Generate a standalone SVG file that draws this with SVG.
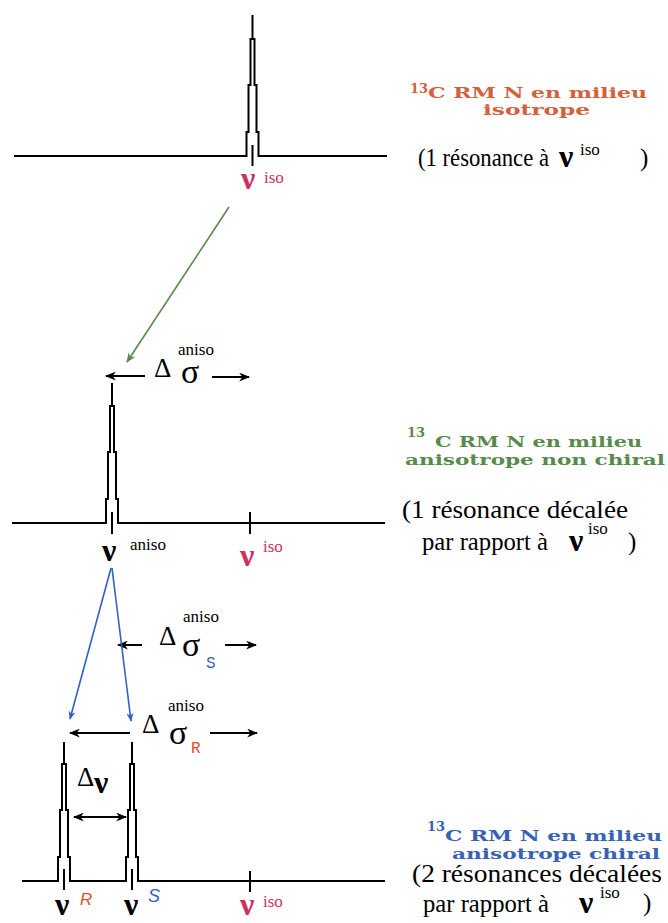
<svg xmlns="http://www.w3.org/2000/svg" width="668" height="923" viewBox="0 0 668 923">
<style>
.sp{fill:none;stroke:#000;stroke-width:2}
.ar{fill:none;stroke:#000;stroke-width:2}
.nu{font-family:"Liberation Serif","DejaVu Serif",serif;font-weight:bold;font-size:32px}
.sup{font-family:"Liberation Serif",serif;font-size:17px}
.hd{font-family:"DejaVu Serif","Liberation Serif",serif;font-weight:bold;font-size:15px}
.hs{font-family:"DejaVu Serif","Liberation Serif",serif;font-weight:bold;font-size:13px}
.bd{font-family:"Liberation Serif",serif;font-size:25px;fill:#000}
.gr{font-family:"Liberation Serif",serif;font-size:27px}
.sg{font-family:"Liberation Serif",serif;font-size:34px}
.red{fill:#cf3060}
.org{fill:#d4603c}
.grn{fill:#578a4c}
.blu{fill:#3a62b4}
</style>
<defs>
<marker id="ah" viewBox="0 0 10 8" refX="9" refY="4" markerWidth="11" markerHeight="9" markerUnits="userSpaceOnUse" orient="auto"><path d="M0,0 L10,4 L0,8 L3,4 z" fill="#000"/></marker>
<marker id="ahg" viewBox="0 0 10 8" refX="9" refY="4" markerWidth="11" markerHeight="8" markerUnits="userSpaceOnUse" orient="auto"><path d="M0,0 L10,4 L0,8 L3,4 z" fill="#578a4c"/></marker>
<marker id="ahb" viewBox="0 0 10 8" refX="9" refY="4" markerWidth="10" markerHeight="7" markerUnits="userSpaceOnUse" orient="auto"><path d="M0,0 L10,4 L0,8 L3,4 z" fill="#3060c8"/></marker>
</defs>

<g id="spectrum-isotrope">
<path class="sp" d="M14 156 H246.5 V132 H248.5 V85 H250.5 V39 H254.5 V85 H256.5 V132 H258.5 V156 H387"/>
<path class="sp" d="M252.5 39 V15 M252.5 145 V166"/>
<text class="nu red" x="241" y="189">ν</text><text class="sup red" x="264" y="183">iso</text>
</g>

<g id="label-isotrope">
<text class="hs org" x="410" y="93">13</text>
<text class="hd org" x="428" y="98" textLength="219" lengthAdjust="spacingAndGlyphs">C RM N en milieu</text>
<text class="hd org" x="483" y="115" textLength="107" lengthAdjust="spacingAndGlyphs">isotrope</text>
<text class="bd" x="418" y="166" textLength="131" lengthAdjust="spacingAndGlyphs">(1 résonance à</text>
<text class="nu" x="559" y="167">ν</text><text class="sup" x="580" y="155">iso</text>
<text class="bd" x="640" y="166">)</text>
</g>

<g id="spectrum-anisotrope">
<path class="sp" d="M12 523 H106 V499 H108 V452 H110 V406 H114 V452 H116 V499 H118 V523 H385"/>
<path class="sp" d="M112 406 V383 M112 512 V534 M250 512 V534"/>
<text class="nu" x="102" y="561">ν</text><text class="sup" x="130" y="550">aniso</text>
<text class="nu red" x="240" y="566">ν</text><text class="sup red" x="263" y="552">iso</text>
<line class="ar" x1="145" y1="376" x2="106" y2="376" marker-end="url(#ah)"/>
<line class="ar" x1="212" y1="377" x2="249" y2="377" marker-end="url(#ah)"/>
<text class="gr" x="154" y="377">Δ</text><text class="sg" x="181" y="383">σ</text>
<text class="sup" x="178" y="355">aniso</text>
</g>

<g id="label-anisotrope-non-chiral">
<text class="hs grn" x="407" y="437">13</text>
<text class="hd grn" x="435" y="447" textLength="207" lengthAdjust="spacingAndGlyphs">C RM N en milieu</text>
<text class="hd grn" x="405" y="465" textLength="260" lengthAdjust="spacingAndGlyphs">anisotrope non chiral</text>
<text class="bd" x="402" y="518" textLength="226" lengthAdjust="spacingAndGlyphs">(1 résonance décalée</text>
<text class="bd" x="422" y="550" textLength="126" lengthAdjust="spacingAndGlyphs">par rapport à</text>
<text class="nu" x="569" y="551">ν</text><text class="sup" x="588" y="534">iso</text>
<text class="bd" x="628" y="550">)</text>
</g>

<g id="spectrum-chiral">
<path class="sp" d="M22 881 H58 V857 H60 V810 H62 V764 H66 V810 H68 V857 H70 V881 H126 V857 H128 V810 H130 V764 H134 V810 H136 V857 H138 V881 H385"/>
<path class="sp" d="M64 764 V742 M132 764 V742 M64 869 V890 M132 869 V890 M250 871 V892"/>
<text class="nu" x="55" y="915" font-size="30">ν</text>
<text x="80" y="905" font-family="Liberation Sans,sans-serif" font-style="italic" font-size="17" fill="#e0502a">R</text>
<text class="nu" x="124" y="915" font-size="30">ν</text>
<text x="148" y="902" font-family="Liberation Sans,sans-serif" font-style="italic" font-size="18" fill="#3a62b4">S</text>
<text class="nu red" x="240" y="915" font-size="30">ν</text><text class="sup red" x="263" y="907">iso</text>
<text class="gr" x="77" y="786">Δ</text><text class="nu" x="94" y="793" font-size="26">ν</text>
<line class="ar" x1="100" y1="817" x2="74" y2="817" marker-end="url(#ah)"/>
<line class="ar" x1="100" y1="817" x2="126" y2="817" marker-end="url(#ah)"/>
<line class="ar" x1="142" y1="645" x2="118" y2="645" marker-end="url(#ah)"/>
<line class="ar" x1="225" y1="645" x2="256" y2="645" marker-end="url(#ah)"/>
<text class="gr" x="159" y="645">Δ</text><text class="sg" x="182" y="656">σ</text>
<text class="sup" x="183" y="622">aniso</text>
<text x="206" y="668" font-family="Liberation Mono,monospace" font-size="16" fill="#3a62b4">S</text>
<line class="ar" x1="130" y1="733" x2="70" y2="733" marker-end="url(#ah)"/>
<line class="ar" x1="210" y1="733" x2="257" y2="733" marker-end="url(#ah)"/>
<text class="gr" x="142" y="733">Δ</text><text class="sg" x="169" y="744">σ</text>
<text class="sup" x="168" y="711">aniso</text>
<text x="191" y="753" font-family="Liberation Mono,monospace" font-size="16" fill="#e0502a">R</text>
</g>

<g id="label-anisotrope-chiral">
<text class="hs blu" x="427" y="831">13</text>
<text class="hd blu" x="445" y="841" textLength="217" lengthAdjust="spacingAndGlyphs">C RM N en milieu</text>
<text class="hd blu" x="452" y="859" textLength="208" lengthAdjust="spacingAndGlyphs">anisotrope chiral</text>
<text class="bd" x="412" y="882" textLength="250" lengthAdjust="spacingAndGlyphs">(2 résonances décalées</text>
<text class="bd" x="423" y="912" textLength="126" lengthAdjust="spacingAndGlyphs">par rapport à</text>
<text class="nu" x="579" y="913">ν</text><text class="sup" x="600" y="898">iso</text>
<text class="bd" x="643" y="911">)</text>
</g>

<g id="connectors">
<line x1="229" y1="207" x2="127" y2="362" stroke="#578a4c" stroke-width="1.6" marker-end="url(#ahg)"/>
<line x1="111" y1="568" x2="70" y2="719" stroke="#3060c8" stroke-width="1.6" marker-end="url(#ahb)"/>
<line x1="112" y1="568" x2="131" y2="721" stroke="#3060c8" stroke-width="1.6" marker-end="url(#ahb)"/>
</g>
</svg>
